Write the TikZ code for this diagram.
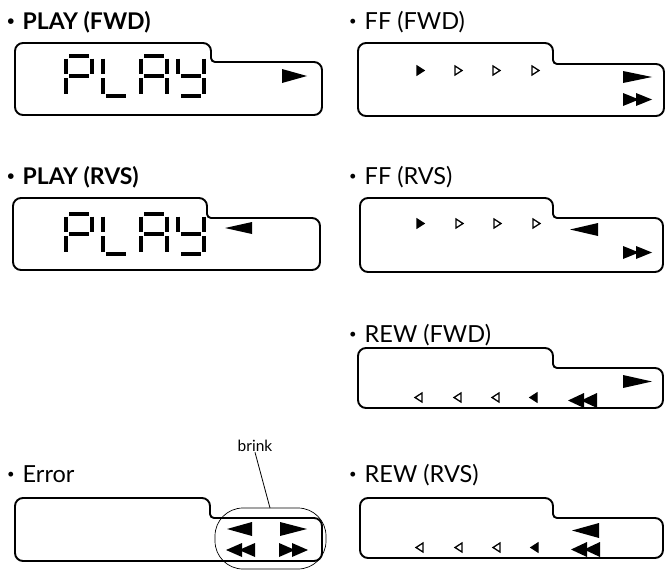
\documentclass[tikz,border=0pt]{standalone}
\usepackage{fontspec}
\setmainfont{Lato}
\newcommand\smallbul{{\fontsize{13}{13}\selectfont\raisebox{4pt}{•}}\hspace{8pt}}
\begin{document}
\begin{tikzpicture}[x=1pt,y=-1pt,
  boxline/.style={line width=1.9pt, line join=round},
  seg/.style={line width=4.3pt, line cap=butt},
  lbl/.style={anchor=base west, inner sep=0pt, font=\fontsize{23.5}{26}\selectfont},
  lblb/.style={lbl, font=\fontsize{23}{26}\selectfont\bfseries},
  opentri/.style={line width=1.3pt, line join=miter},
  pics/dP/.style={code={\draw[seg] (3,0)--(23,0) (26,2.5)--(26,18) (0,2.5)--(0,18) (0,22)--(0,37.5) (3,20)--(23,20);}},
  pics/dL/.style={code={\draw[seg] (0,2.5)--(0,18) (0,22)--(0,37.5) (3,40)--(23,40);}},
  pics/dA/.style={code={\draw[seg] (3,0)--(23,0) (26,2.5)--(26,18) (26,22)--(26,37.5) (0,2.5)--(0,18) (0,22)--(0,37.5) (3,20)--(23,20);}},
  pics/dY/.style={code={\draw[seg] (26,2.5)--(26,18) (26,22)--(26,37.5) (0,2.5)--(0,18) (3,20)--(23,20) (3,40)--(23,40);}},
]
\useasboundingbox (0,0) rectangle (669,570);

% LCD outline: L,T,S,T2,R,B
\newcommand\lcdbox[6]{%
  \draw[boxline, rounded corners=8pt] ({(#1+#5)/2},#6) -- (#1,#6) -- (#1,#2) -- (#3,#2)
    [rounded corners=4pt] -- (#3,#4) [rounded corners=8pt] -- (#5,#4) -- (#5,#6) -- cycle;}
% solid triangles: x,y (top-left), width, height
\newcommand\trR[4]{\fill (#1,#2) -- ++(#3,#4/2) -- ++(-#3,#4/2) -- cycle;}
\newcommand\trL[4]{\fill ({#1+#3},#2) -- ++(-#3,#4/2) -- ++(#3,#4/2) -- cycle;}
\newcommand\dblR[3]{\trR{#1}{#2}{16}{#3}\trR{#1+13}{#2}{16}{#3}}
\newcommand\dblL[3]{\trL{#1}{#2}{16}{#3}\trL{#1+13}{#2}{16}{#3}}
% small triangles
\newcommand\smR[2]{\draw[opentri] (#1,#2) -- ++(7,4.5) -- ++(-7,4.5) -- cycle;}
\newcommand\smRf[2]{\filldraw[opentri] (#1,#2) -- ++(7,4.5) -- ++(-7,4.5) -- cycle;}
\newcommand\smL[2]{\draw[opentri] ({#1+7},#2) -- ++(-7,4.5) -- ++(7,4.5) -- cycle;}
\newcommand\smLf[2]{\filldraw[opentri] ({#1+7},#2) -- ++(-7,4.5) -- ++(7,4.5) -- cycle;}
\newcommand\playdigits[1]{%
  \begin{scope}[shift={(66,#1)},xslant=0.09]\pic{dP};\end{scope}
  \begin{scope}[shift={(103,#1)},xslant=0.09]\pic{dL};\end{scope}
  \begin{scope}[shift={(141,#1)},xslant=0.09]\pic{dA};\end{scope}
  \begin{scope}[shift={(178,#1)},xslant=0.09]\pic{dY};\end{scope}}

% ---------- PLAY (FWD)
\node[lblb] (lpf) at (7,29) {\smallbul PLAY (FWD)};
\lcdbox{15}{43}{211}{62}{322}{115}
\playdigits{56}
\trR{282}{69}{25}{14}

% ---------- FF (FWD)
\node[lbl] (lff) at (349,29) {\smallbul FF (FWD)};
\lcdbox{358}{43}{553}{64}{664}{116}
\smRf{417}{66}\smR{455}{66}\smR{493}{66}\smR{532}{66}
\trR{623}{71}{29}{12}
\dblR{623}{93}{13}

% ---------- PLAY (RVS)
\node[lblb] (lpr) at (7,184) {\smallbul PLAY (RVS)};
\lcdbox{13}{198}{207}{218}{320}{270}
\playdigits{214}
\trL{225}{222}{27}{12}

% ---------- FF (RVS)
\node[lbl] (lfr) at (349,184) {\smallbul FF (RVS)};
\lcdbox{360}{198}{553}{218}{663}{272}
\smRf{417}{219}\smR{456}{219}\smR{494}{219}\smR{533}{219}
\trL{570}{223}{28}{13}
\dblR{623}{246}{13}

% ---------- REW (FWD)
\node[lbl] (lrf) at (349,342) {\smallbul REW (FWD)};
\lcdbox{358}{348}{553}{368}{663}{408}
\trR{623}{375}{29}{13}
\smL{415}{393}\smL{454}{393}\smL{492}{393}\smLf{530}{393}
\dblL{568}{393}{15}

% ---------- Error
\node[lbl] (ler) at (7,482) {\smallbul Error};
\lcdbox{15}{498}{210}{518}{322}{561}
\trL{227}{522}{25}{14}
\trR{280}{522}{27}{14}
\dblL{226}{543}{14}
\dblR{279}{543}{14}
\draw[line width=0.7pt, rounded corners=28pt] (215,508) rectangle (326,569);
\coordinate (ovaltop) at (270,508);
\node[anchor=base, inner sep=1pt, font=\fontsize{15.5}{17}\selectfont] (brink) at (255,451) {brink};
\draw[line width=0.8pt] (brink.south) -- (ovaltop);

% ---------- REW (RVS)
\node[lbl] (lrr) at (349,482) {\smallbul REW (RVS)};
\lcdbox{360}{498}{553}{518}{663}{558}
\trL{572}{523}{27}{15}
\dblL{571}{542}{15}
\smL{416}{543}\smL{455}{543}\smL{493}{543}\smLf{531}{543}
\end{tikzpicture}
\end{document}
